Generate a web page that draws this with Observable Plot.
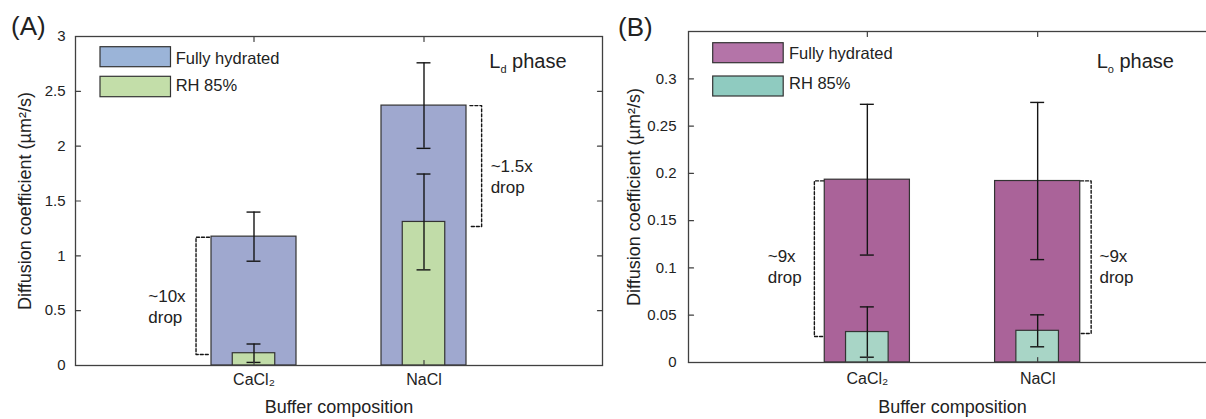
<!DOCTYPE html>
<html><head><meta charset="utf-8">
<script src="https://cdn.jsdelivr.net/npm/d3@7"></script>
<script src="https://cdn.jsdelivr.net/npm/@observablehq/plot@0.6"></script>
<style>
html,body{margin:0;padding:0;background:#fff;}
#wrap{position:relative;width:1206px;height:419px;overflow:hidden;font-family:"Liberation Sans",Arial,sans-serif;}
#wrap svg.panel{position:absolute;top:0;}
#overlay{position:absolute;left:0;top:0;}
</style></head><body><div id="wrap"></div>
<script>
// ---------- data ----------
const salts = ["CaCl₂", "NaCl"];
const saltPos = [1, 2];
const seriesNames = ["Fully hydrated", "RH 85%"];
const xLabel = "Buffer composition";
const yLabel = "Diffusion coefficient (µm²/s)";

// Panel A – Ld phase
const ldFull = [1.175, 2.37];
const ldFullErr = [0.224, 0.39];
const ldRH = [0.112, 1.309];
const ldRHErr = [0.084, 0.437];
const ldDropTop = [1.17, 2.37];
const ldDropBottom = [0.10, 1.267];
const ldDropText = ["~10x\ndrop", "~1.5x\ndrop"];
const ldYTicks = [0, 0.5, 1, 1.5, 2, 2.5, 3];
const ldYTickLabels = ["0", "0.5", "1", "1.5", "2", "2.5", "3"];

// Panel B – Lo phase
const loFull = [0.1933, 0.1919];
const loFullErr = [0.0797, 0.0831];
const loRH = [0.0322, 0.0335];
const loRHErr = [0.0266, 0.0169];
const loDropTop = [0.192, 0.192];
const loDropBottom = [0.0275, 0.0307];
const loDropText = ["~9x\ndrop", "~9x\ndrop"];
const loYTicks = [0, 0.05, 0.1, 0.15, 0.2, 0.25, 0.3];
const loYTickLabels = ["0", "0.05", "0.1", "0.15", "0.2", "0.25", "0.3"];

// ---------- layout / style ----------
const FONT = '"Liberation Sans", Arial, sans-serif';
const AXIS = "#404040";
const INK = "#151515";

const panels = [
  {
    left: 0, width: 610, mL: 75, mR: 8, mT: 36, mB: 54, yDomain: [0, 3],
    full: ldFull, fullErr: ldFullErr, rh: ldRH, rhErr: ldRHErr,
    dropTop: ldDropTop, dropBottom: ldDropBottom, dropText: ldDropText,
    yTicks: ldYTicks, yTickLabels: ldYTickLabels,
    fullColor: "#9fa8cf", rhColor: "#c1dca8",
    bracketV: [-0.341, 0.339], bracketH: [-0.262, 0.27],
    noteX: [-0.622, 0.392], noteY: [0.544, 1.726],
    xTickPad: 8, yTickPad: 10, yLabelDx: -50, xLabelDy: 42
  },
  {
    left: 605, width: 621, mL: 83, mR: 10, mT: 31, mB: 57, yDomain: [0, 0.35],
    full: loFull, fullErr: loFullErr, rh: loRH, rhErr: loRHErr,
    dropTop: loDropTop, dropBottom: loDropBottom, dropText: loDropText,
    yTicks: loYTicks, yTickLabels: loYTickLabels,
    fullColor: "#aa6399", rhColor: "#a8d5c6",
    bracketV: [-0.311, 0.314], bracketH: [-0.257, 0.252],
    noteX: [-0.585, 0.363], noteY: [0.1025, 0.1022],
    xTickPad: 10, yTickPad: 12, yLabelDx: -54, xLabelDy: 44.5
  }
];

const tickShape = {draw(ctx, l) { ctx.moveTo(0, 0); ctx.lineTo(0, -l); }};
const CAP = 0.041;

function makePanel(cfg) {
  const rows = salts.map((s, i) => ({
    salt: s, pos: saltPos[i],
    full: cfg.full[i], fullErr: cfg.fullErr[i],
    rh: cfg.rh[i], rhErr: cfg.rhErr[i],
    note: cfg.dropText[i], nx: saltPos[i] + cfg.noteX[i], ny: cfg.noteY[i]
  }));
  const caps = (v, e) => rows.flatMap(d => [
    {pos: d.pos, y: d[v] + d[e]}, {pos: d.pos, y: d[v] - d[e]}
  ]);
  const brackets = rows.flatMap((d, i) => {
    const V = d.pos + cfg.bracketV[i], H = d.pos + cfg.bracketH[i];
    const t = cfg.dropTop[i], b = cfg.dropBottom[i];
    return [{z: i, x: H, y: t}, {z: i, x: V, y: t}, {z: i, x: V, y: b}, {z: i, x: H, y: b}];
  });
  const pad = 1.05;
  const svg = Plot.plot({
    width: cfg.width, height: 419,
    marginLeft: cfg.mL, marginRight: cfg.mR, marginTop: cfg.mT, marginBottom: cfg.mB,
    style: {fontFamily: FONT, color: "#222", background: "transparent", overflow: "visible"},
    x: {type: "linear", domain: [saltPos[0] - pad, saltPos[1] + pad]},
    y: {domain: cfg.yDomain},
    marks: [
      Plot.rectY(rows, {x1: d => d.pos - 0.25, x2: d => d.pos + 0.25, y1: 0, y2: "full",
        fill: cfg.fullColor, stroke: "#333", strokeWidth: 1.2}),
      Plot.ruleX(rows, {x: "pos", y1: d => d.full - d.fullErr, y2: d => d.full + d.fullErr,
        stroke: INK, strokeWidth: 1.4}),
      Plot.ruleY(caps("full", "fullErr"), {y: "y", x1: d => d.pos - CAP, x2: d => d.pos + CAP,
        stroke: INK, strokeWidth: 1.4}),
      Plot.rectY(rows, {x1: d => d.pos - 0.125, x2: d => d.pos + 0.125, y1: 0, y2: "rh",
        fill: cfg.rhColor, stroke: "#333", strokeWidth: 1.2}),
      Plot.ruleX(rows, {x: "pos", y1: d => d.rh - d.rhErr, y2: d => d.rh + d.rhErr,
        stroke: INK, strokeWidth: 1.4}),
      Plot.ruleY(caps("rh", "rhErr"), {y: "y", x1: d => d.pos - CAP, x2: d => d.pos + CAP,
        stroke: INK, strokeWidth: 1.4}),
      Plot.line(brackets, {x: "x", y: "y", z: "z", stroke: INK, strokeWidth: 1.4,
        strokeDasharray: "3,2"}),
      Plot.text(rows, {x: "nx", y: "ny", text: "note", textAnchor: "start", lineAnchor: "middle",
        lineHeight: 1.22, fontSize: 17, fill: "#222"}),
      Plot.frame({stroke: AXIS, strokeWidth: 1.3}),
      Plot.vector(cfg.yTicks, {y: d => d, frameAnchor: "left", rotate: 90, length: 5, anchor: "start",
        shape: tickShape, stroke: AXIS, strokeWidth: 1.2}),
      Plot.vector(cfg.yTicks, {y: d => d, frameAnchor: "right", rotate: -90, length: 5, anchor: "start",
        shape: tickShape, stroke: AXIS, strokeWidth: 1.2}),
      Plot.vector(saltPos, {x: d => d, frameAnchor: "bottom", rotate: 0, length: 5, anchor: "start",
        shape: tickShape, stroke: AXIS, strokeWidth: 1.2}),
      Plot.vector(saltPos, {x: d => d, frameAnchor: "top", rotate: 180, length: 5, anchor: "start",
        shape: tickShape, stroke: AXIS, strokeWidth: 1.2}),
      Plot.axisY({ticks: cfg.yTicks, tickFormat: d => cfg.yTickLabels[cfg.yTicks.indexOf(d)],
        tickSize: 0, tickPadding: cfg.yTickPad, fontSize: 15, label: null}),
      Plot.axisX({ticks: saltPos, tickFormat: d => salts[saltPos.indexOf(d)],
        tickSize: 0, tickPadding: cfg.xTickPad, fontSize: 16, label: null}),
      Plot.text([xLabel], {text: d => d, frameAnchor: "bottom", dy: cfg.xLabelDy,
        lineAnchor: "middle", textAnchor: "middle", fontSize: 18, fill: "#222"}),
      Plot.text([yLabel], {text: d => d, frameAnchor: "left", dx: cfg.yLabelDx, rotate: -90,
        lineAnchor: "middle", textAnchor: "middle", fontSize: 18, fill: "#222"})
    ]
  });
  svg.classList.add("panel");
  svg.style.left = cfg.left + "px";
  return svg;
}

const wrap = document.getElementById("wrap");
panels.forEach(p => wrap.appendChild(makePanel(p)));

// ---------- overlay: panel letters, legends, phase labels ----------
const ov = d3.select(wrap).append("svg").attr("id", "overlay")
  .attr("width", 1206).attr("height", 419)
  .style("font-family", FONT).style("fill", "#222");

ov.append("text").attr("x", 11).attr("y", 34.5).attr("font-size", 26).text("(A)");
ov.append("text").attr("x", 618).attr("y", 36).attr("font-size", 26).text("(B)");

const legends = [
  {x: 100, boxes: [[46.7, 20], [76.3, 20.4]], colors: ["#9bb4d8", "#c3dea9"], tx: 175.7, base: [64, 90.7]},
  {x: 712.7, boxes: [[42.7, 20], [76, 20]], colors: ["#b474a8", "#8fcbc0"], tx: 789, base: [59, 89.3]}
];
legends.forEach(L => {
  seriesNames.forEach((name, i) => {
    ov.append("rect").attr("x", L.x).attr("y", L.boxes[i][0]).attr("width", 70.5).attr("height", L.boxes[i][1])
      .attr("fill", L.colors[i]).attr("stroke", "#333").attr("stroke-width", 1.2);
    ov.append("text").attr("x", L.tx).attr("y", L.base[i]).attr("font-size", 16.5).text(name);
  });
});

const phases = [{x: 489.3, y: 68.3, sub: "d"}, {x: 1096.7, y: 68.3, sub: "o"}];
phases.forEach(p => {
  const t = ov.append("text").attr("x", p.x).attr("y", p.y).attr("font-size", 20);
  t.append("tspan").text("L");
  t.append("tspan").attr("font-size", 11).attr("dy", 5).text(p.sub);
  t.append("tspan").attr("dy", -5).text(" phase");
});
</script></body></html>
